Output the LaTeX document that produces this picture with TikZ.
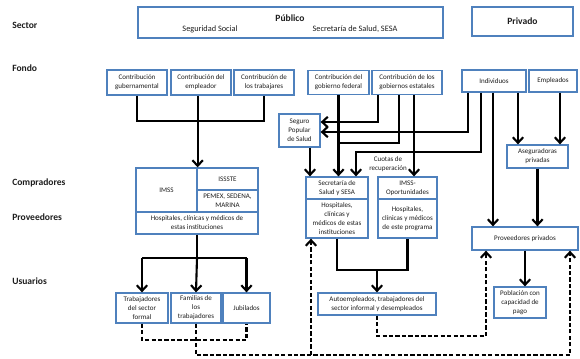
\documentclass[tikz,border=0pt]{standalone}
\usepackage{fontspec}
\setmainfont{Carlito}
\usetikzlibrary{arrows.meta}
\definecolor{borde}{RGB}{79,129,189}
\definecolor{texto}{RGB}{30,30,30}

\begin{document}
\begin{tikzpicture}[x=0.025cm,y=-0.025cm,
	caja/.style={draw=borde, line width=0.9pt, fill=white, text=texto, align=center, inner sep=0pt, font=\fontsize{5}{6.3}\selectfont},
	etiqueta/.style={anchor=west, inner sep=0pt, text=texto, font=\fontsize{6.8}{8}\selectfont\bfseries},
	subtitulo/.style={text=texto, font=\fontsize{5.9}{7}\selectfont},
	linea/.style={line width=1.5pt},
	flecha/.style={line width=1.5pt, -{Straight Barb[length=1.4mm,width=2.6mm]}},
	dlinea/.style={line width=1.5pt, dash pattern=on 3pt off 1.6pt},
	dflecha/.style={dlinea, -{Straight Barb[length=1.4mm,width=2.6mm]}}]
			\useasboundingbox (0,0) rectangle (580,358);
			\node[etiqueta] (sector) at (12,25) {Sector};
			\node[etiqueta] (fondo) at (12,68) {Fondo};
			\node[etiqueta] (compradores) at (12,183) {Compradores};
			\node[etiqueta] (proveedores) at (12,217) {Proveedores};
			\node[etiqueta] (usuarios) at (12,281) {Usuarios};
			\node[caja, minimum width=7.625cm, minimum height=0.775cm] (publico) at (290.5,22.5) {};
			\node[etiqueta, anchor=center] (tpublico) at (290,18) {Público};
			\node[subtitulo] (segsocial) at (210,29) {Seguridad Social};
			\node[subtitulo] (secsalud) at (355,29) {Secretaría de Salud, SESA};
			\node[caja, minimum width=2.525cm, minimum height=0.725cm, font=\fontsize{6.8}{8}\selectfont\bfseries] (privado) at (522.5,21.5) {Privado};
			\node[caja, minimum width=1.5cm, minimum height=0.625cm] (cgub) at (137,82.5) {Contribución\\gubernamental};
			\node[caja, minimum width=1.5cm, minimum height=0.625cm] (cemp) at (201,82.5) {Contribución del\\empleador};
			\node[caja, minimum width=1.5cm, minimum height=0.625cm] (ctra) at (264,82.5) {Contribución de\\los trabajares};
			\node[caja, minimum width=1.525cm, minimum height=0.6cm] (cfed) at (338.5,82.5) {Contribución del\\gobierno federal};
			\node[caja, minimum width=1.75cm, minimum height=0.6cm] (cest) at (407,82.5) {Contribución de los\\gobiernos estatales};
			\node[caja, minimum width=1.6cm, minimum height=0.55cm] (indiv) at (494,81) {Individuos};
			\node[caja, minimum width=1.2cm, minimum height=0.55cm] (emple) at (553,81) {Empleados};
			\node[caja, minimum width=1.025cm, minimum height=0.825cm] (seguro) at (299.5,130.5) {Seguro\\Popular\\de Salud};
			\node[caja, minimum width=1.525cm, minimum height=1.1cm] (imss) at (166.5,190) {IMSS};
			\node[caja, minimum width=1.525cm, minimum height=0.55cm] (issste) at (227.5,179) {ISSSTE};
			\node[caja, minimum width=1.525cm, minimum height=0.55cm] (pemex) at (227.5,201) {PEMEX, SEDENA,\\MARINA};
			\node[caja, minimum width=3.05cm, minimum height=0.55cm] (hosp1) at (197,223) {Hospitales, clínicas y médicos de\\estas instituciones};
			\node[caja, minimum width=1.55cm, minimum height=0.55cm] (ssa) at (337,188) {Secretaría de\\Salud y SESA};
			\node[caja, minimum width=1.55cm, minimum height=0.975cm] (hosp2) at (337,218.5) {Hospitales,\\clínicas y\\médicos de estas\\instituciones};
			\node[caja, minimum width=1.475cm, minimum height=0.55cm] (imssop) at (407.5,188) {IMSS-\\Oportunidades};
			\node[caja, minimum width=1.475cm, minimum height=0.975cm] (hosp3) at (407.5,218.5) {Hospitales,\\clínicas y médicos\\de este programa};
			\node[caja, minimum width=1.525cm, minimum height=0.575cm] (aseg) at (537.5,156.5) {Aseguradoras\\privadas};
			\node[caja, minimum width=2.65cm, minimum height=0.575cm] (provpriv) at (525,238.5) {Proveedores privados};
			\node[caja, minimum width=1.3cm, minimum height=0.775cm] (poblacion) at (520,302.5) {Población con\\capacidad de\\pago};
			\node[caja, minimum width=1.3cm, minimum height=0.75cm] (trab) at (142,308) {Trabajadores\\del sector\\formal};
			\node[caja, minimum width=1.25cm, minimum height=0.75cm] (fam) at (196,308) {Familias de\\los\\trabajadores};
			\node[caja, minimum width=1.175cm, minimum height=0.75cm] (jub) at (246.5,308) {Jubilados};
			\node[caja, minimum width=2.95cm, minimum height=0.55cm] (autoemp) at (377,304) {Autoempleados, trabajadores del\\sector informal y desempleados};
			\node[text=texto, align=center, font=\fontsize{5}{6.3}\selectfont] (cuotas) at (388,164) {Cuotas de\\recuperación};
			\coordinate (fjoin) at (201,121);
			\coordinate (e1) at (378,122);
			\coordinate (e2) at (399,143);
			\coordinate (e3) at (414,0);
			\coordinate (i1) at (468,132);
			\coordinate (i2) at (481,152);
			\coordinate (i2b) at (356,152);
			\coordinate (i3) at (493,0);
			\coordinate (i4) at (518,0);
			\coordinate (em) at (560,0);
			\coordinate (s1) at (310,0);
			\coordinate (h1) at (197,258);
			\coordinate (h2) at (377,270);
			\coordinate (d1) at (0,340);
			\coordinate (d2) at (570,355);
			\coordinate (d3) at (311,355);
			\coordinate (d4) at (486,336);
			\draw[linea] (cgub.south) |- (ctra.south |- fjoin) -- (ctra.south);
			\draw[flecha] (cemp.south -| imss.north east) -- (imss.north east);
			\draw[flecha] (cest.south -| e1) -- (e1) -- (e1 -| seguro.east);
			\draw[linea] (cest.south -| e2) -- (e2) -- (e2 -| cfed.south);
			\draw[flecha] (cfed.south) -- (cfed.south |- ssa.north);
			\draw[flecha] (cest.south -| e3) -- (imssop.north -| e3);
			\draw[flecha] (indiv.south -| i1) -- (i1) -- (i1 -| seguro.east);
			\draw[flecha] (indiv.south -| i2) -- (i2) -- (i2b) -- (ssa.north -| i2b);
			\draw[flecha] (indiv.south -| i3) -- (provpriv.north -| i3);
			\draw[flecha] (indiv.south -| i4) -- (aseg.north -| i4);
			\draw[flecha] (emple.south -| em) -- (aseg.north -| em);
			\draw[flecha] (aseg.south) -- (provpriv.north -| aseg.south);
			\draw[flecha] (seguro.south -| s1) -- (ssa.north -| s1);
			\draw[linea] (hosp1.south) -- (h1);
			\draw[linea] (trab.north |- h1) -- (jub.north |- h1);
			\draw[flecha] (trab.north |- h1) -- (trab.north);
			\draw[flecha] (h1) -- (fam.north);
			\draw[flecha] (jub.north |- h1) -- (jub.north);
			\draw[linea] (hosp2.south) |- (h2) -| (hosp3.south);
			\draw[flecha] (h2) -- (autoemp.north);
			\draw[flecha] (provpriv.south) -- (poblacion.north -| provpriv.south);
			\draw[dlinea] (trab.south) |- (jub.south |- d1) -- (jub.south);
			\draw[dflecha] (fam.south) |- (d2) -- (provpriv.south -| d2);
			\draw[dflecha] (d3) -- (hosp2.south -| d3);
			\draw[dflecha] (autoemp.south) |- (d4) -- (provpriv.south -| d4);
		\end{tikzpicture}
\end{document}
